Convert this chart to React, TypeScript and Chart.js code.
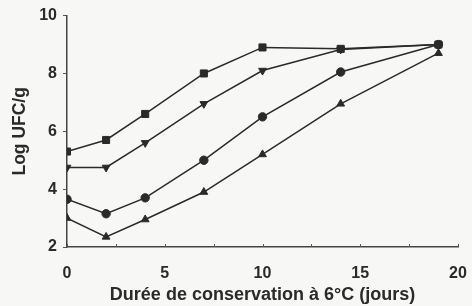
import React, { useEffect, useRef } from "react";
import { Chart, registerables } from "chart.js";
Chart.register(...registerables);

const days = [0, 2, 4, 7, 10, 14, 19];
const seriesSquare = [5.3, 5.7, 6.6, 8.0, 8.9, 8.85, 9.0];
const seriesInvTri = [4.75, 4.75, 5.6, 6.95, 8.1, 8.83, 9.0];
const seriesCircle = [3.65, 3.15, 3.7, 5.0, 6.5, 8.05, 9.0];
const seriesTri = [3.0, 2.35, 2.95, 3.9, 5.2, 6.95, 8.7];
const xTicks = [0, 5, 10, 15, 20];
const xMinorTicks = [0, 2.5, 5, 7.5, 10, 12.5, 15, 17.5, 20];

const ink = "#2a2a2a";

const innerTicks = {
  id: "innerTicks",
  afterDraw(chart: any) {
    const x = chart.scales.x;
    const y = chart.scales.y;
    const ctx = chart.ctx;
    ctx.save();
    ctx.strokeStyle = "#555";
    ctx.lineWidth = 1;
    const yb = y.getPixelForValue(2);
    xMinorTicks.forEach((v) => {
      const px = Math.round(x.getPixelForValue(v)) + 0.5;
      ctx.beginPath();
      ctx.moveTo(px, yb);
      ctx.lineTo(px, yb - 3);
      ctx.stroke();
    });
    ctx.restore();
  },
};

export default function App() {
  const ref = useRef<HTMLCanvasElement>(null);
  useEffect(() => {
    document.body.style.margin = "0";
    document.body.style.background = "#f7f7f6";
    const mk = (data: number[], style: any, rot = 0, r = 4.5) => ({
      data: days.map((d, i) => ({ x: d, y: data[i] })),
      borderColor: ink,
      backgroundColor: ink,
      borderWidth: 1.5,
      pointStyle: style,
      pointRotation: rot,
      pointRadius: r,
      pointBorderWidth: 1,
      tension: 0,
    });
    const chart = new Chart(ref.current!, {
      type: "line",
      data: {
        datasets: [
          mk(seriesSquare, "rect", 0, 5),
          mk(seriesInvTri, "triangle", 180, 4.5),
          mk(seriesCircle, "circle", 0, 4.2),
          mk(seriesTri, "triangle", 0, 4.5),
        ] as any,
      },
      plugins: [innerTicks],
      options: {
        animation: false,
        responsive: false,
        layout: { padding: { top: 14, right: 14, left: 0, bottom: 0 } },
        plugins: { legend: { display: false }, tooltip: { enabled: false } },
        scales: {
          x: {
            type: "linear",
            min: 0,
            max: 20,
            afterBuildTicks: (s: any) => {
              s.ticks = xTicks.map((v) => ({ value: v }));
            },
            afterFit: (s: any) => {
              s.height = 59;
              s.paddingLeft = 0;
              s.paddingRight = 0;
            },
            border: { display: true, color: "#444", width: 1.5 },
            grid: { display: true, drawOnChartArea: false, drawTicks: false },
            ticks: {
              color: ink,
              padding: 17,
              maxRotation: 0,
              font: { family: "Liberation Sans, Arial", size: 16, weight: "bold" },
            },
            title: {
              display: true,
              text: "Durée de conservation à 6°C (jours)",
              color: ink,
              padding: { top: 0, bottom: 0 },
              font: { family: "Liberation Sans, Arial", size: 18, weight: "bold" },
            },
          },
          y: {
            min: 2,
            max: 10,
            ticks: {
              stepSize: 2,
              color: ink,
              padding: 6,
              font: { family: "Liberation Sans, Arial", size: 16, weight: "bold" },
            },
            afterFit: (s: any) => {
              s.width = 67;
            },
            border: { display: true, color: "#444", width: 1.5 },
            grid: { display: true, drawOnChartArea: false, drawTicks: true, tickLength: 4, color: "#555" },
            title: {
              display: true,
              text: "Log UFC/g",
              color: ink,
              padding: { top: 10, bottom: 0 },
              font: { family: "Liberation Sans, Arial", size: 17.5, weight: "bold" },
            },
          },
        },
      },
    });
    return () => chart.destroy();
  }, []);
  return (
    <div style={{ width: 472, height: 306, background: "#f7f7f6" }}>
      <canvas ref={ref} width={472} height={306} />
    </div>
  );
}
